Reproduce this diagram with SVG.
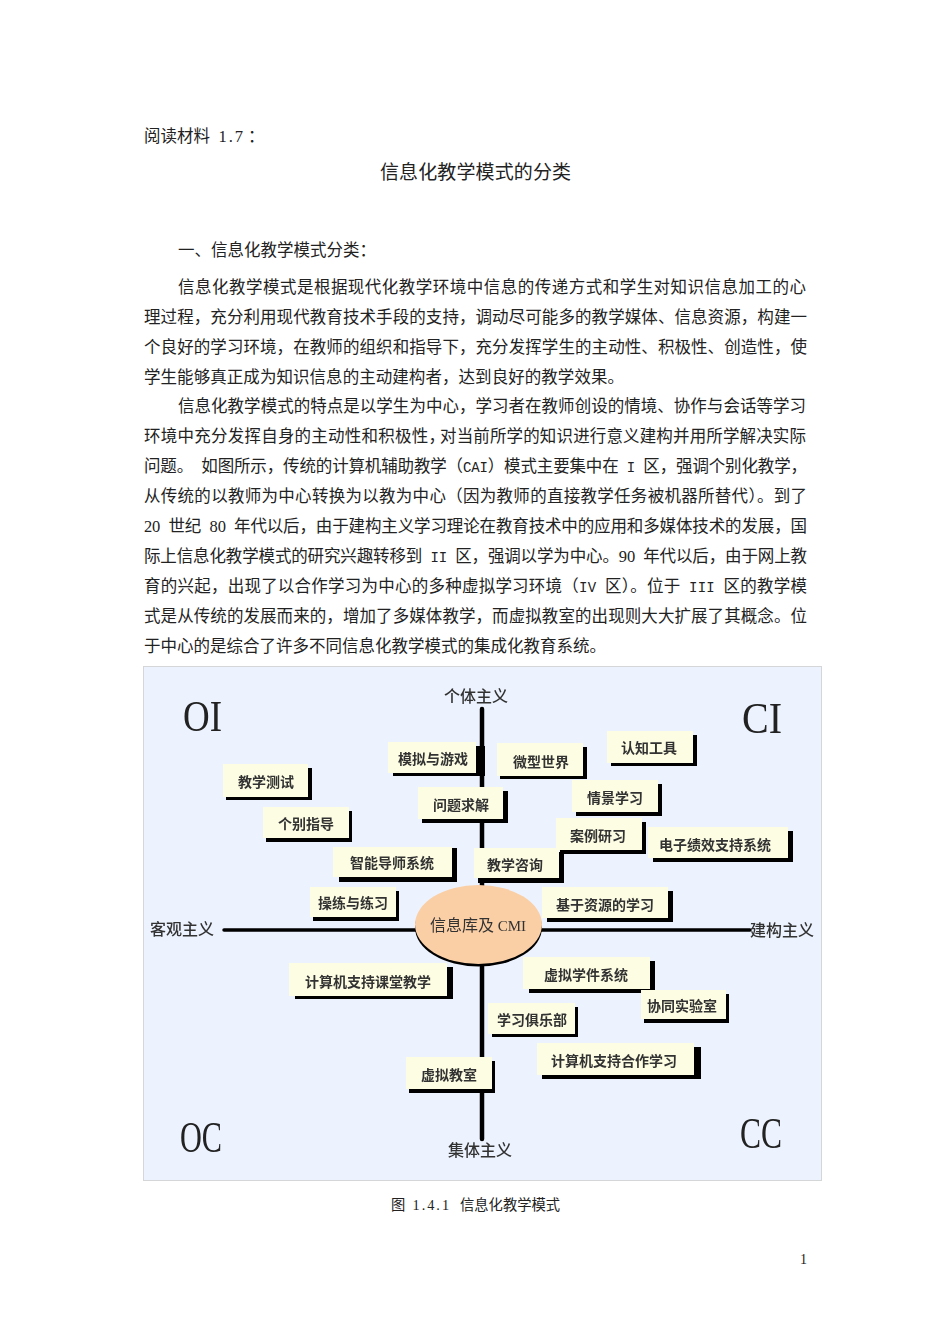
<svg xmlns="http://www.w3.org/2000/svg" width="950" height="1344" viewBox="0 0 950 1344">
<style>
text{font-family:"Liberation Serif","Noto Sans CJK SC",serif;fill:#222}
.b{font-size:16.500px}
.m{font-family:"Liberation Mono","Noto Sans CJK SC",monospace;font-size:14px}
.s{fill:#000}
.c{fill:#fdfde3}
.l{font-size:14px;font-weight:700;fill:#333;text-anchor:middle;font-family:"Noto Sans CJK SC",sans-serif}
.a{font-size:16px;font-weight:500;fill:#333;text-anchor:middle;font-family:"Noto Sans CJK SC",sans-serif}
.q{font-size:44px;fill:#222}
.ax{stroke:#000;stroke-linecap:round;fill:none}
</style>
<defs><filter id="soft" x="0" y="0" width="1" height="1"><feGaussianBlur stdDeviation="0.450"/></filter></defs>
<rect width="950" height="1344" fill="#fff"/>
<g id="page-text">
<text class="b" x="144" y="142">阅读材料<tspan class="m"> </tspan><tspan letter-spacing="2">1.7</tspan><tspan dx="3">：</tspan></text>
<text x="380" y="179" textLength="191" lengthAdjust="spacing" style="font-size:19px">信息化教学模式的分类</text>
<text class="b" x="178" y="256" textLength="198" lengthAdjust="spacing">一、信息化教学模式分类：</text>
<text class="b" x="178" y="293" textLength="628" lengthAdjust="spacing">信息化教学模式是根据现代化教学环境中信息的传递方式和学生对知识信息加工的心</text>
<text class="b" x="144" y="323" textLength="663" lengthAdjust="spacing">理过程，充分利用现代教育技术手段的支持，调动尽可能多的教学媒体、信息资源，构建一</text>
<text class="b" x="144" y="353" textLength="663" lengthAdjust="spacing">个良好的学习环境，在教师的组织和指导下，充分发挥学生的主动性、积极性、创造性，使</text>
<text class="b" x="144" y="383" textLength="480" lengthAdjust="spacing">学生能够真正成为知识信息的主动建构者，达到良好的教学效果。</text>
<text class="b" x="178" y="412" textLength="628" lengthAdjust="spacing">信息化教学模式的特点是以学生为中心，学习者在教师创设的情境、协作与会话等学习</text>
<text class="b" x="144" y="442" textLength="301" lengthAdjust="spacing">环境中充分发挥自身的主动性和积极性，</text>
<text class="b" x="440" y="442" textLength="366" lengthAdjust="spacing">对当前所学的知识进行意义建构并用所学解决实际</text>
<text class="b" x="144" y="472" textLength="663" lengthAdjust="spacing">问题。<tspan class="m"> </tspan>如图所示，传统的计算机辅助教学（<tspan class="m">CAI</tspan>）模式主要集中在<tspan class="m"> I </tspan>区，强调个别化教学，</text>
<text class="b" x="144" y="502" textLength="663" lengthAdjust="spacing">从传统的以教师为中心转换为以教为中心（因为教师的直接教学任务被机器所替代）。到了</text>
<text class="b" x="144" y="532" textLength="663" lengthAdjust="spacing">20<tspan class="m"> </tspan>世纪<tspan class="m"> </tspan>80<tspan class="m"> </tspan>年代以后，由于建构主义学习理论在教育技术中的应用和多媒体技术的发展，国</text>
<text class="b" x="144" y="562" textLength="663" lengthAdjust="spacing">际上信息化教学模式的研究兴趣转移到<tspan class="m"> II </tspan>区，强调以学为中心。90<tspan class="m"> </tspan>年代以后，由于网上教</text>
<text class="b" x="144" y="592" textLength="663" lengthAdjust="spacing">育的兴起，出现了以合作学习为中心的多种虚拟学习环境（<tspan class="m">IV </tspan>区）。位于<tspan class="m"> III </tspan>区的教学模</text>
<text class="b" x="144" y="622" textLength="663" lengthAdjust="spacing">式是从传统的发展而来的，增加了多媒体教学，而虚拟教室的出现则大大扩展了其概念。位</text>
<text class="b" x="144" y="652" textLength="462" lengthAdjust="spacing">于中心的是综合了许多不同信息化教学模式的集成化教育系统。</text>
<text x="391" y="1210" style="font-size:14.300px">图<tspan class="m" style="font-size:12px"> </tspan><tspan letter-spacing="2">1.4.1</tspan><tspan x="460">信息化教学模式</tspan></text>
<text x="800" y="1264" style="font-size:14px">1</text>
</g>
<rect id="panel" x="143.500" y="666.500" width="678" height="514" fill="#ecf3fe" stroke="#d4d6d8"/>
<g id="figure" filter="url(#soft)">
<g id="connectors">
<path class="ax" stroke-width="4.500" d="M482 709V1139"/>
<path class="ax" stroke-width="3.500" d="M224 930H750"/>
</g>
<g id="quadrants">
<text class="q" x="183" y="731" textLength="39" lengthAdjust="spacingAndGlyphs">OI</text>
<text class="q" x="742" y="733" textLength="40" lengthAdjust="spacingAndGlyphs">CI</text>
<text class="q" x="180" y="1152" textLength="42" lengthAdjust="spacingAndGlyphs">OC</text>
<text class="q" x="740" y="1148" textLength="42" lengthAdjust="spacingAndGlyphs">CC</text>
</g>
<g id="poles">
<text class="a" x="476" y="702">个体主义</text>
<text class="a" x="182" y="935">客观主义</text>
<text class="a" x="782" y="936">建构主义</text>
<text class="a" x="480" y="1156">集体主义</text>
</g>
<g id="core">
<ellipse class="s" cx="478.500" cy="927.500" rx="63.500" ry="39"/>
<ellipse cx="478.500" cy="924.500" rx="63.500" ry="39.500" fill="#fbcfa6"/>
<text class="a" x="478" y="931" style="font-weight:400">信息库及<tspan style="font-family:'Liberation Serif';font-size:15px"> CMI</tspan></text>
</g>
<g id="n1"><rect class="s" x="226" y="768" width="86" height="32"/><rect class="c" x="223" y="764" width="85" height="33"/><text class="l" x="266" y="787">教学测试</text></g>
<g id="n2"><rect class="s" x="266" y="811" width="86" height="31"/><rect class="c" x="263" y="807" width="86" height="31"/><text class="l" x="306" y="829">个别指导</text></g>
<g id="n3"><rect class="s" x="339" y="848" width="118" height="34"/><rect class="c" x="333" y="847" width="119" height="30"/><text class="l" x="392" y="868">智能导师系统</text></g>
<g id="n4"><rect class="s" x="313" y="891" width="86" height="30"/><rect class="c" x="310" y="887" width="86" height="30"/><text class="l" x="353" y="908">操练与练习</text></g>
<g id="n5"><rect class="s" x="393" y="746" width="92" height="30"/><rect class="c" x="388" y="742" width="88" height="31"/><text class="l" x="433" y="764">模拟与游戏</text></g>
<g id="n6"><rect class="s" x="422" y="791" width="86" height="32"/><rect class="c" x="418" y="787" width="85" height="32"/><text class="l" x="461" y="810">问题求解</text></g>
<g id="n7"><rect class="s" x="478" y="852" width="86" height="31"/><rect class="c" x="474" y="848" width="85" height="30"/><text class="l" x="515" y="870">教学咨询</text></g>
<g id="n8"><rect class="s" x="500" y="747" width="87" height="32"/><rect class="c" x="497" y="743" width="86" height="33"/><text class="l" x="541" y="767">微型世界</text></g>
<g id="n9"><rect class="s" x="611" y="735" width="86" height="31"/><rect class="c" x="607" y="731" width="86" height="32"/><text class="l" x="649" y="753">认知工具</text></g>
<g id="n10"><rect class="s" x="576" y="784" width="86" height="32"/><rect class="c" x="572" y="780" width="86" height="32"/><text class="l" x="615" y="803">情景学习</text></g>
<g id="n11"><rect class="s" x="560" y="822" width="86" height="32"/><rect class="c" x="556" y="818" width="86" height="32"/><text class="l" x="598" y="841">案例研习</text></g>
<g id="n12"><rect class="s" x="653" y="831" width="140" height="31"/><rect class="c" x="648" y="827" width="140" height="31"/><text class="l" x="715" y="850">电子绩效支持系统</text></g>
<g id="n13"><rect class="s" x="547" y="891" width="126" height="31"/><rect class="c" x="542" y="887" width="126" height="31"/><text class="l" x="605" y="910">基于资源的学习</text></g>
<g id="n14"><rect class="s" x="295" y="967" width="158" height="32"/><rect class="c" x="289" y="963" width="158" height="33"/><text class="l" x="368" y="987">计算机支持课堂教学</text></g>
<g id="n15"><rect class="s" x="409" y="1061" width="86" height="32"/><rect class="c" x="406" y="1057" width="86" height="32"/><text class="l" x="449" y="1080">虚拟教室</text></g>
<g id="n16"><rect class="s" x="529" y="961" width="126" height="32"/><rect class="c" x="523" y="957" width="127" height="32"/><text class="l" x="586" y="980">虚拟学件系统</text></g>
<g id="n17"><rect class="s" x="644" y="994" width="85" height="29"/><rect class="c" x="641" y="990" width="85" height="29"/><text class="l" x="682" y="1011">协同实验室</text></g>
<g id="n18"><rect class="s" x="492" y="1007" width="86" height="30"/><rect class="c" x="488" y="1003" width="87" height="31"/><text class="l" x="532" y="1025">学习俱乐部</text></g>
<g id="n19"><rect class="s" x="542" y="1047" width="159" height="32"/><rect class="c" x="537" y="1043" width="157" height="32"/><text class="l" x="614" y="1066">计算机支持合作学习</text></g>
</g>
</svg>
